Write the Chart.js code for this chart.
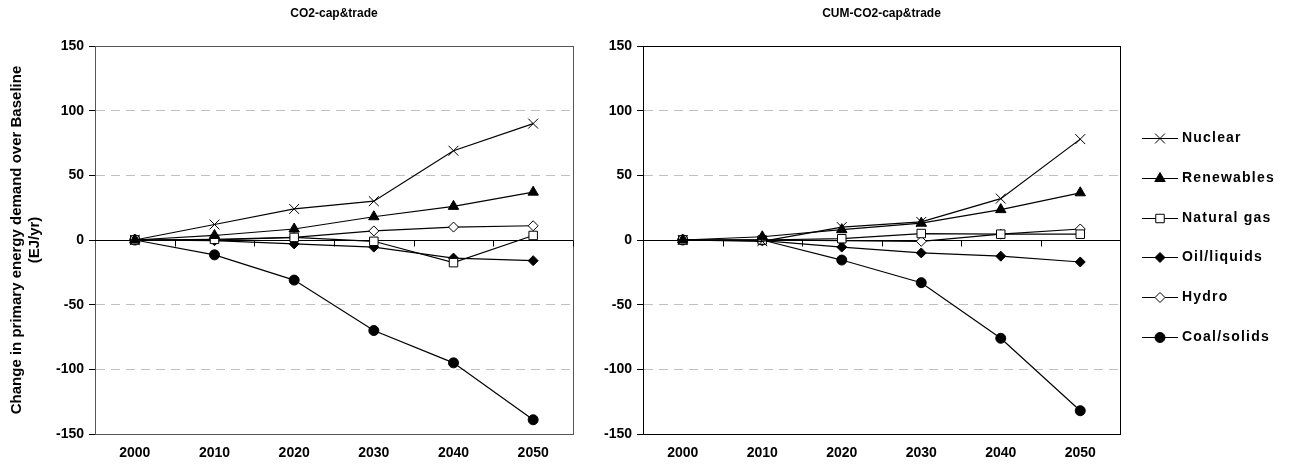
<!DOCTYPE html>
<html>
<head>
<meta charset="utf-8">
<script src="https://cdn.jsdelivr.net/npm/chart.js@4.4.0/dist/chart.umd.min.js"></script>
<style>
    body { margin: 0; background: #fff; }
    #wrap { position: relative; width: 1291px; height: 466px; }
    #capChart { position: absolute; left: 0; top: 0; }
    #cumChart { position: absolute; left: 600px; top: 0; }
</style>
</head>
<body>
<div id="wrap">
    <canvas id="capChart" width="600" height="466"></canvas>
    <canvas id="cumChart" width="691" height="466"></canvas>
</div>
<script>
// ==================== DATA ====================
const years = ["2000", "2010", "2020", "2030", "2040", "2050"];
const seriesNames = ["Nuclear", "Renewables", "Natural gas", "Oil/liquids", "Hydro", "Coal/solids"];

// CO2-cap&trade (EJ/yr)
const capNuclear    = [0, 12, 24, 30, 69, 90];
const capRenewables = [0, 3.5, 8.5, 18, 26, 37];
const capGas        = [0, 0.5, 2, -1, -17.5, 3.5];
const capOil        = [0, -0.5, -3, -5.5, -14, -16];
const capHydro      = [0, 0, 2, 7, 10, 11];
const capCoal       = [0, -11.5, -31, -70, -95, -139];

// CUM-CO2-cap&trade (EJ/yr)
const cumNuclear    = [0, -1, 10, 14, 32, 78];
const cumRenewables = [0, 2.5, 8, 13, 23.5, 36.5];
const cumGas        = [0, 0, 1, 5, 4.5, 4.5];
const cumOil        = [0, -0.5, -5.5, -10, -12.5, -17];
const cumHydro      = [0, 0, -0.5, -1, 4.5, 8.5];
const cumCoal       = [0, 0, -15.5, -33, -76, -132];

const yMin = -150, yMax = 150, yStep = 50;

// ==================== STYLES ====================
const markers = [
    { pointStyle: "crossRot", pointRadius: 7, pointBackgroundColor: "#000" },
    { pointStyle: "triangle", pointRadius: 6, pointBackgroundColor: "#000" },
    { pointStyle: "rect", pointRadius: 6, pointBackgroundColor: "#fff" },
    { pointStyle: "rectRot", pointRadius: 5, pointBackgroundColor: "#000" },
    { pointStyle: "rectRot", pointRadius: 5, pointBackgroundColor: "#fff" },
    { pointStyle: "circle", pointRadius: 5, pointBackgroundColor: "#000" },
];
const FONT = "'Liberation Sans', Arial, sans-serif";

function makeDatasets(values) {
    return seriesNames.map((name, i) => ({
        label: name,
        data: values[i],
        borderColor: "#000",
        borderWidth: 1.2,
        pointBorderColor: "#000",
        pointBorderWidth: 1,
        pointHoverRadius: markers[i].pointRadius,
        tension: 0,
        ...markers[i],
    }));
}

// ==================== PLUGINS ====================
// zero line, boundary ticks on it, plot frame and chart title
const framePlugin = {
    id: "frame",
    beforeDatasetsDraw(chart, args, opts) {
        const { ctx, chartArea: a, scales: { x, y } } = chart;
        const y0 = Math.round(y.getPixelForValue(0)) + 0.5;
        const half = (x.getPixelForTick(1) - x.getPixelForTick(0)) / 2;
        ctx.save();
        ctx.strokeStyle = opts.color || "#000";
        ctx.lineWidth = 1;
        ctx.strokeRect(Math.round(a.left) + 0.5, Math.round(a.top) + 0.5,
            Math.round(a.right - a.left), Math.round(a.bottom - a.top));
        ctx.strokeStyle = "#000";
        ctx.beginPath();
        ctx.moveTo(a.left, y0);
        ctx.lineTo(a.right, y0);
        for (let i = 0; i < x.ticks.length; i++) {
            const bx = Math.round(x.getPixelForTick(i) + half) + 0.5;
            ctx.moveTo(bx, y0);
            ctx.lineTo(bx, y0 + 6);
        }
        ctx.stroke();
        ctx.restore();
    },
    afterDraw(chart, args, opts) {
        if (!opts.title) return;
        const { ctx, chartArea: a } = chart;
        ctx.save();
        ctx.fillStyle = "#000";
        ctx.font = "bold 12px " + FONT;
        ctx.textAlign = "center";
        ctx.textBaseline = "middle";
        ctx.fillText(opts.title, (a.left + a.right) / 2, 14);
        ctx.restore();
    },
};

// legend on the right: short line with the marker, then the name
const sideLegendPlugin = {
    id: "sideLegend",
    afterDraw(chart, args, opts) {
        if (!opts.display) return;
        const ctx = chart.ctx;
        chart.data.datasets.forEach((ds, i) => {
            const cy = Math.round(opts.top + i * opts.gap) + 0.5;
            ctx.save();
            ctx.strokeStyle = "#000";
            ctx.lineWidth = 1;
            ctx.beginPath();
            ctx.moveTo(opts.left, cy);
            ctx.lineTo(opts.left + 36, cy);
            ctx.stroke();
            ctx.fillStyle = ds.pointBackgroundColor;
            Chart.helpers.drawPoint(ctx, {
                pointStyle: ds.pointStyle,
                radius: ds.pointRadius,
                borderWidth: 1,
                rotation: 0,
            }, opts.left + 18, cy);
            ctx.fillStyle = "#000";
            ctx.font = "bold 14px " + FONT;
            ctx.letterSpacing = "1.2px";
            ctx.textAlign = "left";
            ctx.textBaseline = "middle";
            ctx.fillText(ds.label, opts.left + 40, cy);
            ctx.restore();
        });
    },
};

// ==================== CHARTS ====================
function buildChart(canvasId, values, cfg) {
    return new Chart(document.getElementById(canvasId), {
        type: "line",
        data: { labels: years, datasets: makeDatasets(values) },
        plugins: [framePlugin, sideLegendPlugin],
        options: {
            responsive: false,
            animation: false,
            layout: { padding: { top: 46, right: cfg.padRight, bottom: 0, left: 0 } },
            plugins: {
                legend: { display: false },
                tooltip: { enabled: false },
                frame: { title: cfg.title, color: cfg.frameColor },
                sideLegend: cfg.legend,
            },
            scales: {
                x: {
                    offset: true,
                    grid: { display: false, drawTicks: false },
                    border: { display: false },
                    ticks: { color: "#000", font: { family: FONT, size: 14, weight: "bold" }, padding: 11 },
                    afterFit: (s) => { s.height = 32; },
                },
                y: {
                    min: yMin,
                    max: yMax,
                    grid: {
                        color: (c) => (c.tick && Math.abs(c.tick.value) % 150 !== 0) ? "#c0c0c0" : "rgba(0,0,0,0)",
                        tickColor: "#000",
                        tickLength: 6,
                    },
                    border: { display: true, color: "#000", width: 1, dash: [9, 6] },
                    ticks: {
                        stepSize: yStep,
                        color: "#000",
                        padding: 5,
                        font: { family: FONT, size: 14, weight: "bold" },
                    },
                    title: {
                        display: !!cfg.yTitle,
                        text: cfg.yTitle || "",
                        color: "#000",
                        font: { family: FONT, size: 15, weight: "bold" },
                        padding: { top: 8, bottom: 0 },
                    },
                    afterFit: (s) => { s.width = cfg.axisWidth; },
                },
            },
        },
    });
}

buildChart("capChart",
    [capNuclear, capRenewables, capGas, capOil, capHydro, capCoal],
    {
        title: "CO2-cap&trade",
        padRight: 27,
        axisWidth: 95,
        frameColor: "#555",
        yTitle: ["Change in primary energy demand over Baseline", "(EJ/yr)"],
        legend: { display: false },
    });

buildChart("cumChart",
    [cumNuclear, cumRenewables, cumGas, cumOil, cumHydro, cumCoal],
    {
        title: "CUM-CO2-cap&trade",
        padRight: 171,
        axisWidth: 43,
        frameColor: "#000",
        legend: { display: true, left: 542, top: 138, gap: 39.8 },
    });
</script>
</body>
</html>
